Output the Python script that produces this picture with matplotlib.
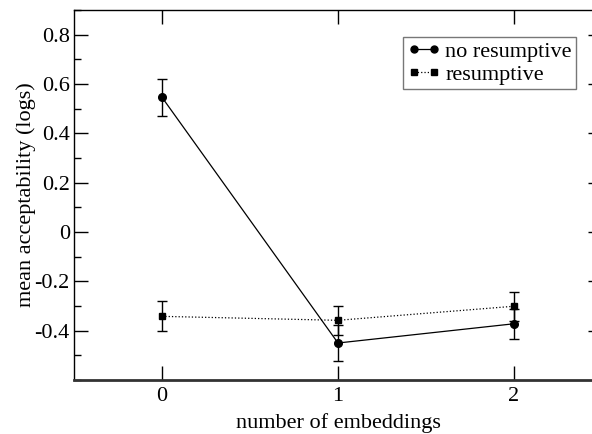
import matplotlib
matplotlib.use("Agg")
import matplotlib.pyplot as plt
from matplotlib.ticker import MultipleLocator
from matplotlib.lines import Line2D

embeddings = [0, 1, 2]
no_resumptive = [0.546, -0.450, -0.372]
no_resumptive_err = [0.076, 0.074, 0.060]
resumptive = [-0.342, -0.358, -0.301]
resumptive_err = [0.061, 0.059, 0.059]
xtick_labels = ["0", "1", "2"]

plt.rcParams['font.family'] = ['Liberation Serif', 'DejaVu Serif']

fig = plt.figure(figsize=(5.92, 4.34), dpi=100)
ax = fig.add_axes([74/592, 1 - 380/434, (602-74)/592, (380-10)/434])

ax.errorbar(embeddings, no_resumptive, yerr=no_resumptive_err, color='black',
            lw=0.9, marker='o', ms=5.5, capsize=3.6, elinewidth=1, capthick=1)
ax.errorbar(embeddings, resumptive, yerr=resumptive_err, color='black',
            lw=0.9, ls=':', marker='s', ms=4.5, capsize=3.6, elinewidth=1, capthick=1)

ax.set_xlim(-0.5, 2.5)
ax.set_ylim(-0.6, 0.9)
ax.set_xticks(embeddings)
ax.set_xticklabels(xtick_labels)
ax.set_yticks([-0.4, -0.2, 0, 0.2, 0.4, 0.6, 0.8])
ax.set_yticklabels(['-0.4', '-0.2', '0', '0.2', '0.4', '0.6', '0.8'])
ax.yaxis.set_minor_locator(MultipleLocator(0.1))
ax.tick_params(axis='both', which='major', direction='in', length=10, width=1,
               labelsize=16, top=True, right=True, pad=3)
ax.tick_params(axis='x', which='major', pad=5)
ax.tick_params(axis='both', which='minor', direction='in', length=5, width=1,
               top=True, right=True)
ax.tick_params(axis='x', which='minor', bottom=False, top=False)
ax.spines['bottom'].set_linewidth(2)
ax.spines['bottom'].set_color('#333333')
for s in ['left', 'top', 'right']:
    ax.spines[s].set_linewidth(1)

ax.set_xlabel('number of embeddings', fontsize=16, labelpad=5)
ax.set_ylabel('mean acceptability (logs)', fontsize=16, labelpad=-1)

handles = [
    Line2D([], [], color='black', lw=0.9, marker='o', ms=5),
    Line2D([], [], color='black', lw=0.9, ls=':', marker='s', ms=4.5),
]
leg = ax.legend(handles, ['no resumptive', 'resumptive'],
                loc='upper right', bbox_to_anchor=(576/592, 1 - 37/434),
                bbox_transform=fig.transFigure, fontsize=16, frameon=True,
                fancybox=False, edgecolor='#555555', handlelength=1.5,
                handletextpad=0.2, borderpad=0.2, labelspacing=0.1,
                borderaxespad=0, numpoints=2)
leg.get_frame().set_linewidth(1)

fig.savefig('out.png', dpi=100)
